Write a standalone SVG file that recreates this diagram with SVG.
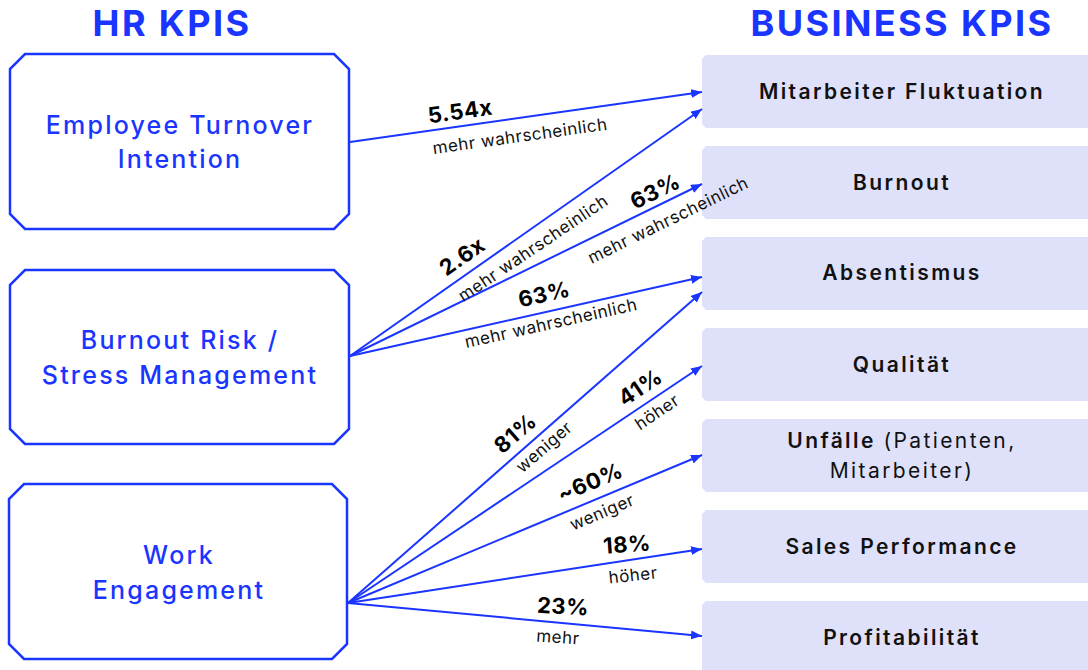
<svg xmlns="http://www.w3.org/2000/svg" width="1088" height="670" viewBox="0 0 1088 670">
<defs>
<marker id="arr" markerUnits="userSpaceOnUse" markerWidth="12" markerHeight="10" refX="11" refY="4.5" orient="auto">
<path d="M0,0 L11,4.5 L0,9 Z" fill="#1a35ff"/>
</marker>
<style>
.hr{fill:#fff;stroke:#1a35ff;stroke-width:2.5}
.bk{fill:#dfe1fb}
.title{font-family:Inter,"Liberation Sans",sans-serif;font-weight:700;font-size:36px;fill:#1a35ff;text-anchor:middle;letter-spacing:2.4px}
.hrt{font-family:Inter,"Liberation Sans",sans-serif;font-weight:500;font-size:25px;fill:#1a35ff;text-anchor:middle;letter-spacing:2.2px}
.bkt{font-family:Inter,"Liberation Sans",sans-serif;font-weight:600;font-size:21px;fill:#111;text-anchor:middle;letter-spacing:2.4px}
.reg{font-weight:400}
.num{font-family:Inter,"Liberation Sans",sans-serif;font-weight:700;font-size:22px;fill:#000;text-anchor:middle;dominant-baseline:central;letter-spacing:0.5px}
.sub{font-family:Inter,"Liberation Sans",sans-serif;font-weight:400;font-size:17px;fill:#111;text-anchor:middle;dominant-baseline:central;letter-spacing:0.5px}
.c{stroke:#1a35ff;stroke-width:2;fill:none;marker-end:url(#arr)}
</style>
</defs>
<rect width="1088" height="670" fill="#fff"/>
<text class="title" x="172" y="36">HR KPIS</text>
<text class="title" x="902" y="36">BUSINESS KPIS</text>

<g id="hr-turnover">
<polygon class="hr" points="25,54 334,54 349,69 349,214 334,229 25,229 10,214 10,69"/>
<text class="hrt" x="180" y="134">Employee Turnover</text>
<text class="hrt" x="180" y="168">Intention</text>
</g>
<g id="hr-burnout">
<polygon class="hr" points="25,270 334,270 349,285 349,429 334,444 25,444 10,429 10,285"/>
<text class="hrt" x="180" y="349">Burnout Risk /</text>
<text class="hrt" x="180" y="384">Stress Management</text>
</g>
<g id="hr-engagement">
<polygon class="hr" points="24,484 332,484 347,499 347,644 332,659 24,659 9,644 9,499"/>
<text class="hrt" x="179" y="564">Work</text>
<text class="hrt" x="179" y="599">Engagement</text>
</g>

<g id="bk-fluktuation">
<polygon class="bk" points="706,55 1090,55 1090,128 706,128 702,124 702,59"/>
<text class="bkt" x="902" y="99">Mitarbeiter Fluktuation</text>
</g>
<g id="bk-burnout">
<polygon class="bk" points="706,146 1090,146 1090,219 706,219 702,215 702,150"/>
<text class="bkt" x="902" y="190">Burnout</text>
</g>
<g id="bk-absentismus">
<polygon class="bk" points="706,237 1090,237 1090,310 706,310 702,306 702,241"/>
<text class="bkt" x="902" y="280">Absentismus</text>
</g>
<g id="bk-qualitaet">
<polygon class="bk" points="706,328 1090,328 1090,401 706,401 702,397 702,332"/>
<text class="bkt" x="902" y="372">Qualität</text>
</g>
<g id="bk-unfaelle">
<polygon class="bk" points="706,419 1090,419 1090,492 706,492 702,488 702,423"/>
<text class="bkt" x="902" y="448">Unfälle <tspan class="reg">(Patienten,</tspan></text>
<text class="bkt reg" x="902" y="478">Mitarbeiter)</text>
</g>
<g id="bk-sales">
<polygon class="bk" points="706,510 1090,510 1090,583 706,583 702,579 702,514"/>
<text class="bkt" x="902" y="554">Sales Performance</text>
</g>
<g id="bk-profit">
<polygon class="bk" points="706,601 1090,601 1090,674 706,674 702,670 702,605"/>
<text class="bkt" x="902" y="645">Profitabilität</text>
</g>

<g id="connectors">
<line class="c" x1="350" y1="142" x2="702" y2="92"/>
<line class="c" x1="350" y1="356" x2="702" y2="109"/>
<line class="c" x1="350" y1="356" x2="702" y2="184"/>
<line class="c" x1="350" y1="356" x2="702" y2="277"/>
<line class="c" x1="348" y1="603" x2="702" y2="292"/>
<line class="c" x1="348" y1="603" x2="702" y2="366"/>
<line class="c" x1="348" y1="603" x2="702" y2="455"/>
<line class="c" x1="348" y1="603" x2="702" y2="549"/>
<line class="c" x1="348" y1="603" x2="702" y2="636"/>
</g>

<g id="labels">
<text class="num" transform="translate(460,111) rotate(-8)">5.54x</text>
<text class="sub" transform="translate(520,136) rotate(-8)">mehr wahrscheinlich</text>
<text class="num" transform="translate(462,256) rotate(-35)">2.6x</text>
<text class="sub" transform="translate(533,248) rotate(-34)">mehr wahrscheinlich</text>
<text class="num" transform="translate(655,191) rotate(-26)">63%</text>
<text class="sub" transform="translate(668,220) rotate(-26)">mehr wahrscheinlich</text>
<text class="num" transform="translate(544,294) rotate(-12.6)">63%</text>
<text class="sub" transform="translate(551,323) rotate(-12.6)">mehr wahrscheinlich</text>
<text class="num" transform="translate(515,433) rotate(-41)">81%</text>
<text class="sub" transform="translate(544,447) rotate(-41)">weniger</text>
<text class="num" transform="translate(640,387) rotate(-34)">41%</text>
<text class="sub" transform="translate(657,412) rotate(-34)">höher</text>
<text class="num" transform="translate(590,482) rotate(-22.7)">~60%</text>
<text class="sub" transform="translate(602,512) rotate(-22.7)">weniger</text>
<text class="num" transform="translate(627,544) rotate(-4)">18%</text>
<text class="sub" transform="translate(633,575) rotate(-6)">höher</text>
<text class="num" transform="translate(563,606) rotate(3)">23%</text>
<text class="sub" transform="translate(558,637) rotate(4)">mehr</text>
</g>
</svg>
